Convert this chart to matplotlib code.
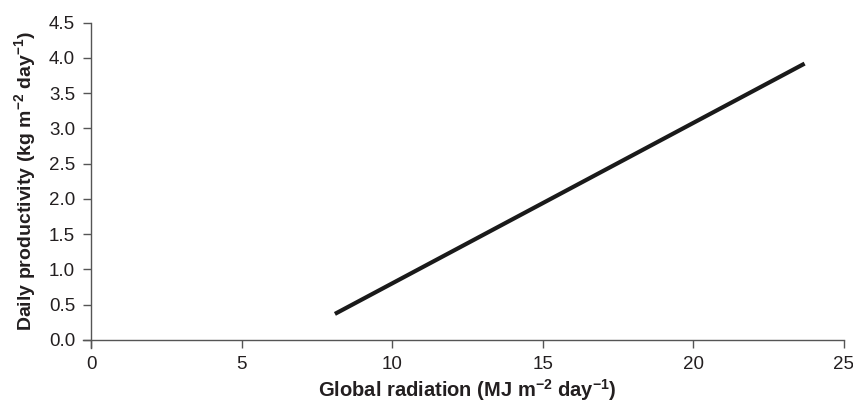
import numpy as np
import matplotlib
matplotlib.use("Agg")
import matplotlib.pyplot as plt

# -------------------------------
# Data
# -------------------------------
radiation = [8.1, 23.7]          # MJ m-2 day-1
productivity = [0.37, 3.92]      # kg m-2 day-1

x_ticks = [0, 5, 10, 15, 20, 25]
y_ticks = [0.0, 0.5, 1.0, 1.5, 2.0, 2.5, 3.0, 3.5, 4.0, 4.5]

# -------------------------------
# Style
# -------------------------------
plt.rcParams['font.family'] = ['Liberation Sans', 'DejaVu Sans']
plt.rcParams['mathtext.fontset'] = 'custom'
plt.rcParams['mathtext.rm'] = 'Liberation Sans:bold'
plt.rcParams['mathtext.default'] = 'rm'

txt = '#231f20'
spine = '#555555'

fig = plt.figure(figsize=(8.54, 4.05), dpi=100)
ax = fig.add_axes([0.1066, 0.1605, 0.8814, 0.7835])

ax.plot(radiation, productivity, color='#1a1a1a', lw=3.0, solid_capstyle='butt')

ax.set_xlim(0, 25)
ax.set_ylim(0, 4.5)
ax.set_xticks(x_ticks)
ax.set_yticks(y_ticks)
ax.set_yticklabels([f"{v:.1f}" for v in y_ticks])

for s in ['top', 'right']:
    ax.spines[s].set_visible(False)
for s in ['left', 'bottom']:
    ax.spines[s].set_color(spine)
    ax.spines[s].set_linewidth(1.0)
# axes cross slightly past the origin, like the original
ax.spines['left'].set_bounds(-0.11, 4.5)
ax.spines['bottom'].set_bounds(-0.27, 25)

ax.tick_params(axis='both', direction='out', length=6, width=1.0,
               color=spine, labelsize=13.5, labelcolor=txt, pad=5.5)

ax.set_ylabel(r'Daily productivity (kg m$^{-2}$ day$^{-1}$)',
              fontsize=14, fontweight='bold', color=txt, labelpad=8)
ax.set_xlabel(r'Global radiation (MJ m$^{-2}$ day$^{-1}$)',
              fontsize=14.5, fontweight='bold', color=txt, labelpad=3)

fig.savefig("out.png", dpi=100)
plt.close(fig)
